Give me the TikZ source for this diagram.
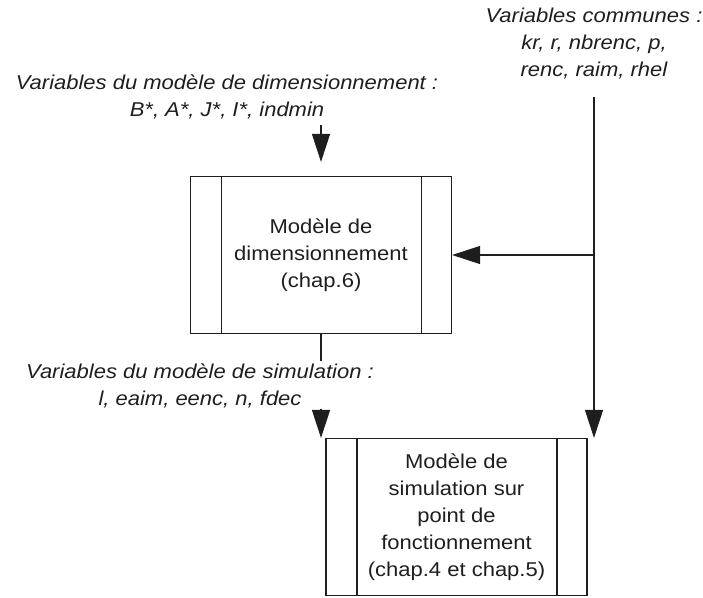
\documentclass[tikz,border=0pt]{standalone}
\usepackage{fontspec}
\setmainfont{Liberation Sans}[FakeStretch=1.1]
\usetikzlibrary{arrows.meta,calc}
\definecolor{ink}{HTML}{1E1E1E}

\begin{document}
\begin{tikzpicture}[x=1pt,y=-1pt,line width=1.2pt,draw=ink,text=ink,
  font=\fontsize{20}{27}\selectfont,
  procbox/.style={draw,minimum width=261pt,minimum height=157pt,inner sep=0pt,align=center,
    path picture={
      \draw[ink,line width=1.2pt] ([xshift=31pt]path picture bounding box.north west) -- ([xshift=31pt]path picture bounding box.south west);
      \draw[ink,line width=1.2pt] ([xshift=-30pt]path picture bounding box.north east) -- ([xshift=-30pt]path picture bounding box.south east);}},
  varlabel/.style={align=center,inner sep=0pt,font=\fontsize{20}{27}\selectfont\itshape},
  arr/.style={-{Triangle[length=28pt,width=18pt]}}]
\useasboundingbox (0,0) rectangle (703,597);

% the two models
\node[procbox] (dim) at (321,255) {Modèle de\\dimensionnement\\(chap.6)};
\node[procbox] (sim) at (456.5,517) {Modèle de\\simulation sur\\point de\\fonctionnement\\(chap.4 et chap.5)};

% variable lists
\node[varlabel] (lblcom) at (594,44) {Variables communes :\\kr, r, nbrenc, p,\\renc, raim, rhel};
\node[varlabel] (lbldim) at (227,97) {Variables du modèle de dimensionnement :\\B*, A*, J*, I*, indmin};
\node[varlabel] (lblsim) at (200,386) {Variables du modèle de simulation :\\l, eaim, eenc, n, fdec};

\coordinate (dimin) at (321,125);
\coordinate (comtop) at (594,97);
\coordinate (comjoin) at (comtop |- dim.east);
\coordinate (dimout) at ($(dim.south)+(0,27)$);
\coordinate (simin) at (321,409);

\draw[arr,shorten >=14pt] (dimin) -- (dim.north);
\draw[arr] (comtop) -- (comtop |- sim.north);
\draw[arr] (comjoin) -- (dim.east);
\draw (dim.south) -- (dimout);
\draw[arr] (simin) -- (simin |- sim.north);
\end{tikzpicture}
\end{document}
